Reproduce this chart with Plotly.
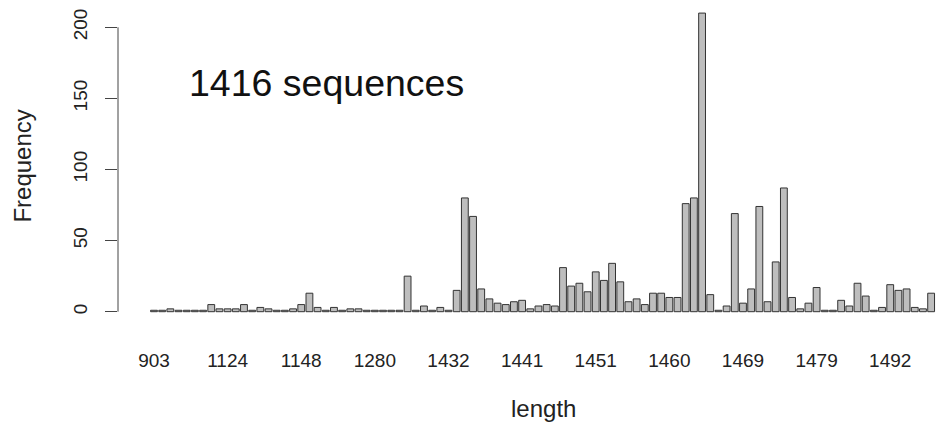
import plotly.graph_objects as go

# Distinct sequence lengths (one bar per length) and how many sequences have each
lengths = [
    903, 968, 1005, 1047, 1069, 1083, 1097, 1108, 1117,
    1124, 1127, 1130, 1133, 1136, 1139, 1141, 1143, 1146,
    1148, 1163, 1178, 1194, 1211, 1229, 1243, 1258, 1271,
    1280, 1302, 1327, 1351, 1376, 1399, 1411, 1419, 1427,
    1432, 1433, 1434, 1435, 1436, 1437, 1438, 1439, 1440,
    1441, 1442, 1443, 1444, 1445, 1447, 1448, 1449, 1450,
    1451, 1452, 1453, 1454, 1455, 1456, 1457, 1458, 1459,
    1460, 1461, 1462, 1463, 1464, 1465, 1466, 1467, 1468,
    1469, 1470, 1471, 1472, 1473, 1474, 1475, 1477, 1478,
    1479, 1480, 1482, 1483, 1485, 1486, 1488, 1489, 1491,
    1492, 1493, 1494, 1495, 1496, 1497,
]
counts = [
    1, 1, 2, 1, 1, 1, 1, 5, 2,
    2, 2, 5, 1, 3, 2, 1, 1, 2,
    5, 13, 3, 1, 3, 1, 2, 2, 1,
    1, 1, 1, 1, 25, 1, 4, 1, 3,
    1, 15, 80, 67, 16, 9, 6, 5, 7,
    8, 2, 4, 5, 4, 31, 18, 20, 14,
    28, 22, 34, 21, 7, 9, 5, 13, 13,
    10, 10, 76, 80, 210, 12, 1, 4, 69,
    6, 16, 74, 7, 35, 87, 10, 2, 6,
    17, 1, 1, 8, 4, 20, 11, 1, 3,
    19, 15, 16, 3, 2, 13,
]
# Lengths that carry a label under the bars
tick_lengths = [903, 1124, 1148, 1280, 1432, 1441, 1451, 1460, 1469, 1479, 1492]
y_ticks = [0, 50, 100, 150, 200]

cats = [str(v) for v in lengths]
FONT = "Liberation Sans, Arial, Helvetica, sans-serif"

fig = go.Figure(
    go.Bar(
        x=cats,
        y=counts,
        marker=dict(color="#bebebe", line=dict(color="#333333", width=1)),
        hoverinfo="x+y",
    )
)

fig.update_layout(
    width=938,
    height=431,
    margin=dict(l=118, r=0, t=0, b=117),
    plot_bgcolor="white",
    paper_bgcolor="white",
    bargap=0.167,
    showlegend=False,
    font=dict(family=FONT, size=19, color="#222222"),
)

fig.update_xaxes(
    type="category",
    categoryorder="array",
    categoryarray=cats,
    tickvals=[str(v) for v in tick_lengths],
    ticktext=[str(v) for v in tick_lengths],
    tickangle=0,
    range=[-4.40, 95.84],
    showgrid=False,
    zeroline=False,
    showline=False,
    ticks="",
    ticklabelstandoff=33,
    automargin=False,
)

fig.update_yaxes(
    range=[-1.62, 219.2],
    tickvals=y_ticks,
    tickangle=-90,
    ticks="outside",
    ticklen=12,
    tickcolor="#444444",
    showgrid=False,
    zeroline=False,
    showline=False,
    ticklabelstandoff=10,
    automargin=False,
)

# y axis line spanning only the labelled tick range
fig.add_shape(
    type="line", xref="paper", yref="y",
    x0=0, x1=0, y0=y_ticks[0], y1=y_ticks[-1],
    line=dict(color="#444444", width=1),
)

# Axis titles, centred on the full plotting region
fig.add_annotation(
    text="Frequency", textangle=-90,
    xref="paper", yref="paper", x=-0.117, y=0.4697,
    xanchor="center", yanchor="middle", showarrow=False,
    font=dict(family=FONT, size=24, color="#222222"),
)
fig.add_annotation(
    text="length",
    xref="paper", yref="paper", x=0.5195, y=-0.2994,
    xanchor="center", yanchor="middle", showarrow=False,
    font=dict(family=FONT, size=24, color="#222222"),
)

fig.add_annotation(
    text="1416 sequences",
    xref="paper", yref="paper",
    x=0.2537, y=0.7357,
    xanchor="center", yanchor="middle",
    showarrow=False,
    font=dict(family=FONT, size=37.5, color="#111111"),
)

fig.write_html("out.html")
